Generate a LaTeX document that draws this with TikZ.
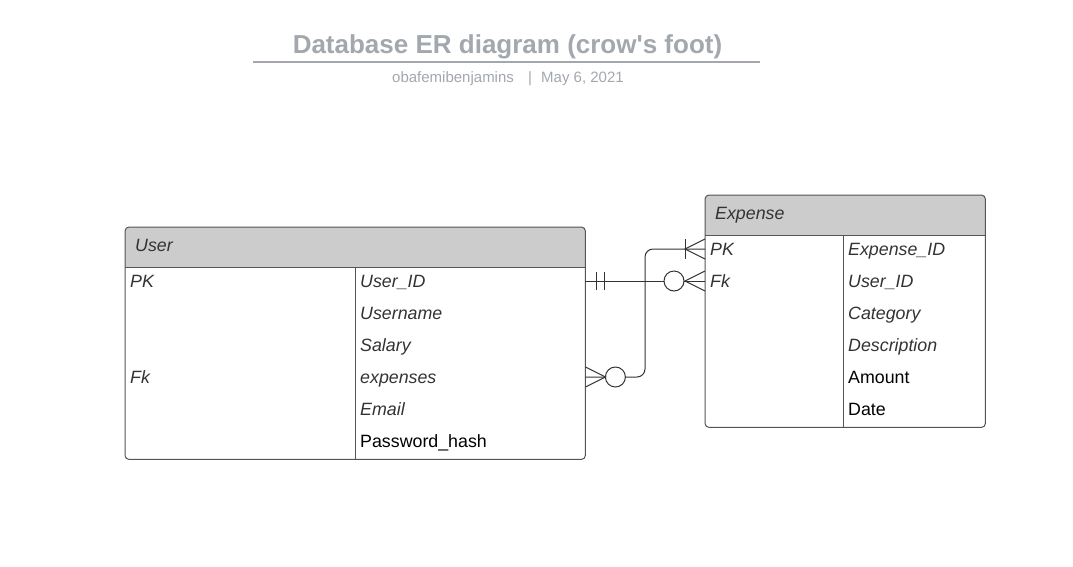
\documentclass[tikz,border=0pt]{standalone}
\usepackage{fontspec}
\setmainfont{Liberation Sans}
\usetikzlibrary{calc}
\definecolor{hdrgray}{HTML}{CCCCCC}
\definecolor{boxgray}{HTML}{555555}
\definecolor{conngray}{HTML}{333333}
\definecolor{titlegray}{HTML}{A3A8AE}
\definecolor{txtgray}{HTML}{333333}
\tikzset{
  tblbox/.style={inner sep=0, anchor=north west},
  fld/.style={anchor=west, inner sep=0, text height=13pt, text depth=0pt, font=\fontsize{17.8}{20}\selectfont\itshape, text=txtgray},
  fldr/.style={fld, font=\fontsize{17.8}{20}\selectfont, text=black},
  conn/.style={draw=conngray, line width=1pt},
  border/.style={draw=boxgray, line width=1pt},
}
\begin{document}
\begin{tikzpicture}[x=1pt,y=-1pt]
\fill[white] (0,0) rectangle (1073,566);
\useasboundingbox (0,0) rectangle (1073,566);

% title
\node[anchor=base, inner sep=0, font=\fontsize{26}{30}\selectfont\bfseries, text=titlegray] (title) at (507.5,53) {Database ER diagram (crow\textquotesingle s foot)};
\draw[titlegray, line width=2pt] (253,62) -- (760,62);
\node[anchor=base west, inner sep=0, font=\fontsize{15}{18}\selectfont, text=titlegray] (author) at (392,82.5) {obafemibenjamins};
\node[anchor=base west, inner sep=0, font=\fontsize{15}{18}\selectfont, text=titlegray] (bar) at (528,82.5) {|};
\node[anchor=base west, inner sep=0, font=\fontsize{15}{18}\selectfont, text=titlegray] (date) at (541,82.5) {May 6, 2021};

% User table
\node[tblbox, minimum width=460pt, minimum height=232pt] (user) at (125,227) {};
\begin{scope}
  \clip[rounded corners=4pt] (user.north west) rectangle (user.south east);
  \fill[hdrgray] (user.north west) rectangle (585,267);
\end{scope}
\draw[border, rounded corners=4pt] (user.north west) rectangle (user.south east);
\draw[border] (125,267) -- (585,267);
\draw[border] (355,267) -- (355,459);
\node[fld] (usertitle) at (135,245) {User};
\node[fld] (upk) at (130,281) {PK};
\node[fld] (ufkl) at (130,377) {Fk};
\node[fld] (uid) at (360,281) {User\_ID};
\node[fld] (uname) at (360,313) {Username};
\node[fld] (usal) at (360,345) {Salary};
\node[fld] (uexp) at (360,377) {expenses};
\node[fld] (umail) at (360,409) {Email};
\node[fldr] (upw) at (360,441) {Password\_hash};

% Expense table
\node[tblbox, minimum width=280pt, minimum height=232pt] (exp) at (705,195) {};
\begin{scope}
  \clip[rounded corners=4pt] (exp.north west) rectangle (exp.south east);
  \fill[hdrgray] (exp.north west) rectangle (985,235);
\end{scope}
\draw[border, rounded corners=4pt] (exp.north west) rectangle (exp.south east);
\draw[border] (705,235) -- (985,235);
\draw[border] (843,235) -- (843,427);
\node[fld] (exptitle) at (715,213) {Expense};
\node[fld] (epkl) at (710,249) {PK};
\node[fld] (efkl) at (710,281) {Fk};
\node[fld] (eid) at (848,249) {Expense\_ID};
\node[fld] (euid) at (848,281) {User\_ID};
\node[fld] (ecat) at (848,313) {Category};
\node[fld] (edesc) at (848,345) {Description};
\node[fldr] (eamt) at (848,377) {Amount};
\node[fldr] (edate) at (848,409) {Date};

% Relationship 1: User.User_ID (one and only one) -- Expense.Fk (zero or many)
\coordinate (A) at (user.east |- uid.west);
\coordinate (B) at (exp.west |- efkl.west);
\draw[conn] (A) -- (B);
\draw[conn] ($(A)+(11,-9)$) -- ($(A)+(11,9)$);
\draw[conn] ($(A)+(19,-9)$) -- ($(A)+(19,9)$);
\draw[conn, fill=white] ($(B)+(-31,0)$) circle (10);
\draw[conn] ($(B)+(0,-10)$) -- ($(B)+(-20,0)$) -- ($(B)+(0,10)$);

% Relationship 2: Expense.PK (one or many) -- User.expenses (zero or many)
\coordinate (C) at (exp.west |- epkl.west);
\coordinate (D) at (user.east |- uexp.west);
\draw[conn, rounded corners=8pt] (C) -- ++(-60,0) |- (D);
\draw[conn] ($(C)+(-20,-10)$) -- ($(C)+(-20,10)$);
\draw[conn] ($(C)+(0,-10)$) -- ($(C)+(-20,0)$) -- ($(C)+(0,10)$);
\draw[conn, fill=white] ($(D)+(30,0)$) circle (10);
\draw[conn] ($(D)+(0,-10)$) -- ($(D)+(20,0)$) -- ($(D)+(0,10)$);
\end{tikzpicture}
\end{document}
